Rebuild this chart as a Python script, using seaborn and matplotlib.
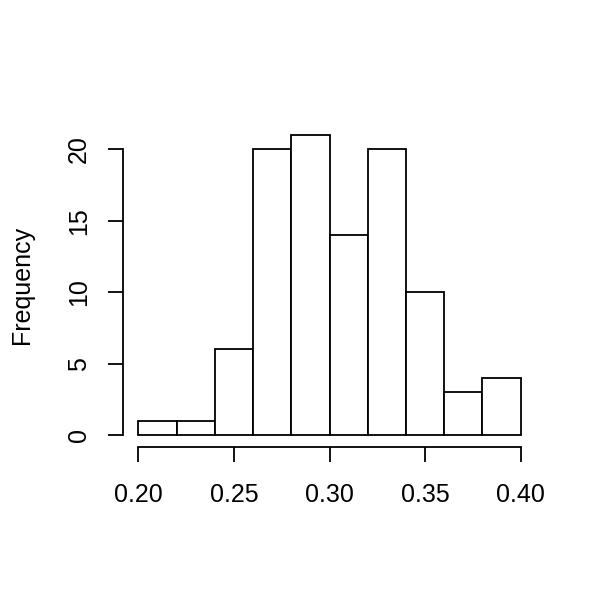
import matplotlib
matplotlib.use("Agg")
import matplotlib.pyplot as plt
import seaborn as sns
import numpy as np

bin_edges = [0.20, 0.22, 0.24, 0.26, 0.28, 0.30, 0.32, 0.34, 0.36, 0.38, 0.40]
counts = [1, 1, 6, 20, 21, 14, 20, 10, 3, 4]
x_ticks = [0.20, 0.25, 0.30, 0.35, 0.40]
x_tick_labels = ["0.20", "0.25", "0.30", "0.35", "0.40"]
y_ticks = [0, 5, 10, 15, 20]

sns.set_style("white")
plt.rcParams['font.family'] = ['Liberation Sans', 'DejaVu Sans']
plt.rcParams['text.color'] = 'black'
plt.rcParams['axes.labelcolor'] = 'black'
plt.rcParams['xtick.color'] = 'black'
plt.rcParams['ytick.color'] = 'black'

fig = plt.figure(figsize=(6, 6), dpi=100)
ax = fig.add_axes([123/600, 1 - 447/600, (536 - 123)/600, (447 - 123)/600])

centers = [(bin_edges[i] + bin_edges[i + 1]) / 2 for i in range(len(counts))]
sns.histplot(x=centers, weights=counts, bins=bin_edges, ax=ax,
             color="white", edgecolor="black", linewidth=1.3, alpha=1)

ax.set_xlim(0.192, 0.408)
ax.set_ylim(-0.84, 21.84)

for s in ["top", "right"]:
    ax.spines[s].set_visible(False)
ax.spines["left"].set_bounds(0, 20)
ax.spines["bottom"].set_bounds(0.20, 0.40)
for s in ["left", "bottom"]:
    ax.spines[s].set_linewidth(1.3)
    ax.spines[s].set_color("black")

ax.set_xticks(x_ticks)
ax.set_xticklabels(x_tick_labels)
ax.set_yticks(y_ticks)
ax.set_yticklabels([str(v) for v in y_ticks], rotation=90, va="center")
ax.tick_params(axis="both", which="major", length=11, width=1.3, labelsize=18,
               color="black", labelcolor="black", direction="out", bottom=True, left=True)
ax.tick_params(axis="x", pad=15)
ax.tick_params(axis="y", pad=12)

ax.set_xlabel("")
ax.set_ylabel("Frequency", fontsize=18, labelpad=24, color="black")
ax.grid(False)

fig.savefig("out.png", dpi=100)
